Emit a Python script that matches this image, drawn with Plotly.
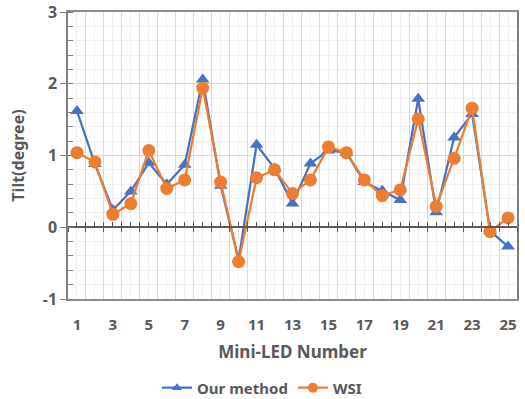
import plotly.graph_objects as go

led_numbers = list(range(1, 26))
our_method = [1.62, 0.88, 0.24, 0.50, 0.90, 0.60, 0.87, 2.06, 0.58, -0.45,
              1.15, 0.82, 0.33, 0.89, 1.07, 1.04, 0.63, 0.51, 0.38, 1.79,
              0.21, 1.25, 1.58, -0.05, -0.27]
wsi = [1.04, 0.91, 0.18, 0.33, 1.07, 0.54, 0.66, 1.94, 0.63, -0.48,
       0.69, 0.80, 0.47, 0.66, 1.12, 1.04, 0.66, 0.44, 0.52, 1.51,
       0.29, 0.96, 1.66, -0.06, 0.13]
x_tick_labels = [str(v) for v in range(1, 26, 2)]
y_ticks = [-1, 0, 1, 2, 3]

BLUE = "#4472C4"
ORANGE = "#ED7D31"
TXT = "#595959"
FONT = "Noto Sans"

fig = go.Figure()
fig.add_trace(go.Scatter(
    x=led_numbers, y=our_method, name="Our method", mode="lines+markers",
    line=dict(color=BLUE, width=2.25), showlegend=False,
    marker=dict(symbol="triangle-up", size=12, color=BLUE),
))
fig.add_trace(go.Scatter(
    x=led_numbers, y=wsi, name="WSI", mode="lines+markers",
    line=dict(color=ORANGE, width=2.25), showlegend=False,
    marker=dict(symbol="circle", size=13, color=ORANGE),
))
# legend entries with smaller symbols (like the reference legend)
fig.add_trace(go.Scatter(
    x=[None], y=[None], name="Our method", mode="lines+markers",
    line=dict(color=BLUE, width=2.25),
    marker=dict(symbol="triangle-up", size=9, color=BLUE),
))
fig.add_trace(go.Scatter(
    x=[None], y=[None], name="WSI", mode="lines+markers",
    line=dict(color=ORANGE, width=2.25),
    marker=dict(symbol="circle", size=10, color=ORANGE),
))

# invisible traces to hold the zero-crossing axes
fig.add_trace(go.Scatter(x=[0.5, 25.5], y=[0, 0], xaxis="x2", mode="none",
                         showlegend=False, hoverinfo="skip"))
fig.add_trace(go.Scatter(x=[0.5, 25.5], y=[0, 0], xaxis="x3", mode="none",
                         showlegend=False, hoverinfo="skip"))

fig.update_layout(
    width=525, height=399,
    margin=dict(l=68, r=8, t=12, b=100, autoexpand=False),
    paper_bgcolor="white", plot_bgcolor="white",
    font=dict(family=FONT, color=TXT, size=14),
    xaxis=dict(
        range=[0.5, 25.5], tickvals=list(range(1, 26, 2)), ticktext=x_tick_labels,
        showgrid=False, zeroline=False, automargin=False,
        showline=True, linecolor="#8c8c8c", linewidth=1.5, mirror=True,
        ticks="outside", ticklen=11, tickcolor="rgba(0,0,0,0)",
        tickfont=dict(family=FONT, size=15, color=TXT, weight="bold"),
        title=dict(text="Mini-LED Number", standoff=13,
                   font=dict(family=FONT, size=17, color=TXT, weight="bold")),
    ),
    xaxis2=dict(
        overlaying="x", anchor="free", position=0.25, range=[0.5, 25.5],
        showline=True, linecolor="#595959", linewidth=1.5, automargin=False,
        tick0=0.5, dtick=1, ticks="outside", ticklen=4, tickwidth=1.2,
        tickcolor="#595959", showticklabels=False,
        showgrid=True, gridcolor="#d9d9d9", gridwidth=1,
        minor=dict(tick0=0, dtick=1, showgrid=True, gridcolor="#f0f0f0",
                   ticks=""),
        zeroline=False,
    ),
    xaxis3=dict(
        overlaying="x", anchor="free", position=0.25, range=[0.5, 25.5],
        showline=False, automargin=False,
        tick0=0.5, dtick=1, ticks="inside", ticklen=5, tickwidth=1.2,
        tickcolor="#595959", showticklabels=False, showgrid=False,
        minor=dict(tick0=0, dtick=1, ticks="inside", ticklen=5,
                   tickwidth=1.2, tickcolor="#595959", showgrid=False),
        zeroline=False,
    ),
    yaxis=dict(
        range=[-1, 3], tickvals=y_ticks, ticktext=[str(v) for v in y_ticks],
        showline=True, linecolor="#7f7f7f", linewidth=1.5, mirror=True,
        ticks="outside", ticklen=6, tickwidth=1.2, tickcolor="#7f7f7f",
        showgrid=True, gridcolor="#d9d9d9", gridwidth=1, automargin=False,
        minor=dict(dtick=0.2, ticks="inside", ticklen=5, tickwidth=1.2,
                   tickcolor="#7f7f7f", showgrid=True, gridcolor="#f0f0f0"),
        zeroline=False,
        tickfont=dict(family=FONT, size=16, color=TXT, weight="bold"),
        title=dict(text="Tilt(degree)", standoff=14,
                   font=dict(family=FONT, size=16, color=TXT, weight="bold")),
    ),
    legend=dict(
        orientation="h", x=0.432, xanchor="center", y=-0.31, yanchor="middle",
        itemwidth=30, font=dict(family=FONT, size=15, color=TXT, weight="bold"),
        bgcolor="rgba(0,0,0,0)",
    ),
    showlegend=True,
)

fig.write_html("out.html",
               config={"displayModeBar": False},
               post_script="document.body.style.margin='0';")
